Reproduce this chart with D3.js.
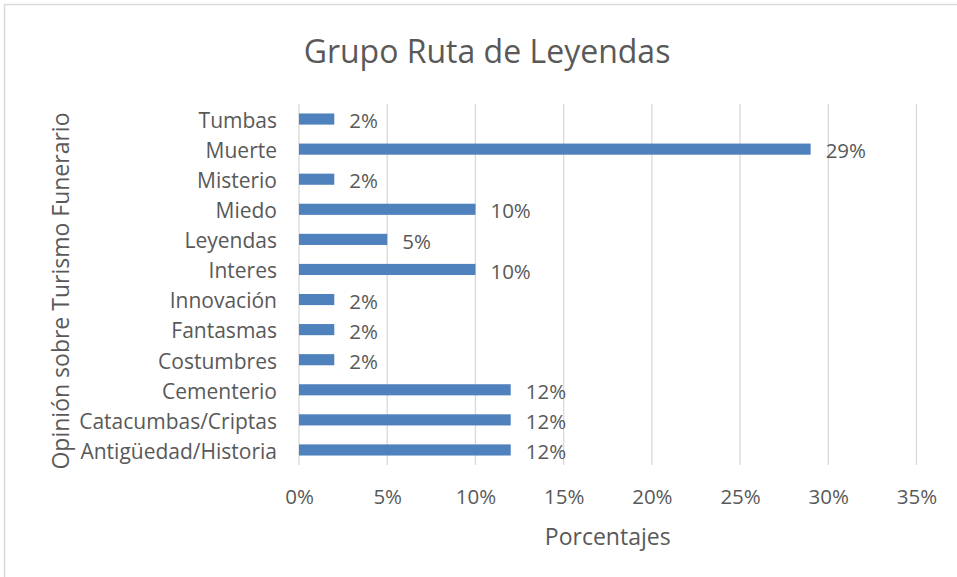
<!DOCTYPE html>
<html><head><meta charset="utf-8">
<script src="https://cdn.jsdelivr.net/npm/d3@7"></script>
<style>
html,body{margin:0;padding:0;background:#fff;}
text{font-family:"Open Sans",Lato,sans-serif;fill:#595959;}
</style></head>
<body>
<svg id="chart" width="957" height="577"></svg>
<script>
const categories = ["Tumbas","Muerte","Misterio","Miedo","Leyendas","Interes","Innovación","Fantasmas","Costumbres","Cementerio","Catacumbas/Criptas","Antigüedad/Historia"];
const values = [2,29,2,10,5,10,2,2,2,12,12,12];
const xTicks = [0,5,10,15,20,25,30,35];
const title = "Grupo Ruta de Leyendas";
const xTitle = "Porcentajes";
const yTitle = "Opinión sobre Turismo Funerario";

(function(){
const FONT = "'Open Sans',Lato,sans-serif";
const svg = d3.select("#chart");
const pLeft = 299, pRight = 916.5, pTop = 104, pBottom = 465;

svg.append("rect").attr("x",4.5).attr("y",4.5).attr("width",960).attr("height",580)
  .attr("fill","#fff").attr("stroke","#d9d9d9").attr("stroke-width",1.5);

const x = d3.scaleLinear().domain([0,35]).range([pLeft,pRight]);
const y = d3.scaleBand().domain(categories).range([pTop,pBottom]).paddingInner(0.63).paddingOuter(0.315);

svg.append("g").selectAll("line").data(xTicks).join("line")
  .attr("x1",d=>x(d)).attr("x2",d=>x(d)).attr("y1",pTop).attr("y2",pBottom)
  .attr("stroke","#d9d9d9").attr("stroke-width",1.3);

svg.append("g").selectAll("rect").data(values).join("rect")
  .attr("x",x(0)).attr("y",(d,i)=>y(categories[i]))
  .attr("width",d=>x(d)-x(0)).attr("height",y.bandwidth())
  .attr("fill","#4f81bd");

svg.append("g").selectAll("text").data(values).join("text")
  .attr("x",d=>x(d)+15).attr("y",(d,i)=>y(categories[i])+y.bandwidth()/2+2)
  .attr("dy","0.35em").attr("font-size",20.5).text(d=>d+"%");

const xAxis = d3.axisBottom(x).tickValues(xTicks).tickFormat(d=>d+"%").tickSize(0).tickPadding(24);
const gx = svg.append("g").attr("transform",`translate(0,${pBottom})`).call(xAxis);
gx.select(".domain").remove();
gx.selectAll("text").attr("font-size",20.5).style("font-family",FONT).attr("fill","#595959");

const yAxis = d3.axisLeft(y).tickSize(0).tickPadding(22);
const gy = svg.append("g").attr("transform",`translate(${pLeft},0)`).call(yAxis);
gy.select(".domain").remove();
gy.selectAll("text").attr("font-size",21).attr("dy","0.42em").style("font-family",FONT).attr("fill","#595959");

svg.append("text").attr("x",487).attr("y",63).attr("text-anchor","middle")
  .attr("font-size",32).text(title);
svg.append("text").attr("x",(pLeft+pRight)/2).attr("y",545).attr("text-anchor","middle")
  .attr("font-size",23).text(xTitle);
svg.append("text").attr("transform",`translate(69,291) rotate(-90)`).attr("text-anchor","middle")
  .attr("font-size",23).text(yTitle);
})();
</script>
</body></html>
